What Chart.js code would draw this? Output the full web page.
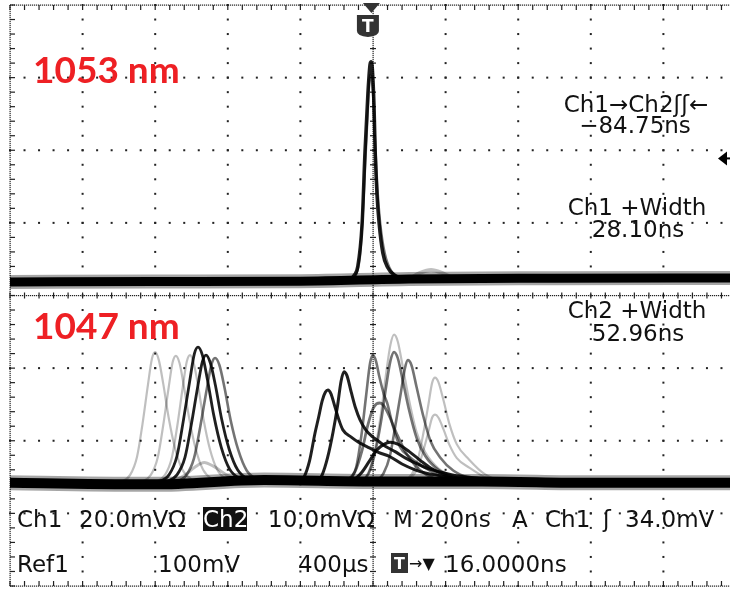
<!DOCTYPE html>
<html>
<head>
<meta charset="utf-8">
<script src="https://cdn.jsdelivr.net/npm/chart.js@4.4.1/dist/chart.umd.min.js"></script>
<style>
html, body { margin: 0; padding: 0; background: #fff; overflow: hidden; }
#wrap { width: 750px; height: 589px; }
</style>
</head>
<body>
<div id="wrap"><canvas id="scope" width="750" height="589"></canvas></div>
<script>
// time axis: 200 ns/div, 10 div, trigger in the middle
const timeDivs = [-1000, -800, -600, -400, -200, 0, 200, 400, 600, 800, 1000];
// Ch1 20 mV/div, Ch2 10 mV/div (values in mV from each channel's ground)
const ch1Range = [-83.75, 76.25];
const ch2Range = [-14.2, 65.8];

// Ch1 (1053 nm) trace
const ch1BaseT = [-1000, -600, -200, 100, 500, 1000];
const ch1BaseV = [0, 0.1, 0.2, 0.8, 1.0, 1.1];
const ch1PeakT = [-130, -85, -65, -52, -42, -30, -22, -14, -8, -5, -2, 3, 6, 11, 17, 27, 40, 60, 90, 125];
const ch1PeakV = [0.2, 0.3, 0.6, 1.8, 4.2, 16, 36, 52, 60, 60.6, 59, 48, 36, 24, 16, 8, 4, 1.8, 0.9, 0.8];
const ch1GhostT = [-100, -60, -45, -35, -25, -15, -8, 0, 5, 12, 20, 32, 50, 80, 110];
const ch1GhostV = [0.2, 0.5, 2.5, 8, 25, 46, 57, 52, 40, 26, 16, 8, 3, 1.2, 0.8];
const ch1BumpT = [100, 130, 160, 190, 220];
const ch1BumpV = [0.8, 2.5, 3.3, 2.5, 1.0];

// Ch2 (1047 nm) trace, many overlaid shots
const ch2BaseT = [-1000, -600, -300, 0, 300, 600, 1000];
const ch2BaseV = [0, -0.2, 0.4, 0.2, 0.2, 0, 0];
const p1T = [-700, -669, -650, -635, -620, -609, -600, -590, -578, -563, -545, -525, -500, -463];
const p1V = [0, 1.1, 3.6, 8.1, 13.5, 17.1, 18.0, 16.9, 13.7, 9.0, 4.7, 1.8, 0.5, 0];
const p2T = [-643, -612, -593, -578, -563, -552, -543, -533, -521, -506, -488, -468, -443, -406];
const p2V = [0, 1.1, 3.5, 7.9, 13.1, 16.6, 17.5, 16.5, 13.3, 8.8, 4.6, 1.8, 0.5, 0];
const p3T = [-604, -573, -554, -539, -524, -513, -504, -494, -482, -467, -449, -429, -404, -367];
const p3V = [0, 1.1, 3.5, 7.9, 13.2, 16.7, 17.6, 16.5, 13.4, 8.8, 4.6, 1.8, 0.5, 0];
const p4T = [-598, -562, -540, -523, -505, -492, -482, -470, -456, -439, -418, -395, -366, -322];
const p4V = [0, 1.1, 3.7, 8.4, 14.0, 17.8, 18.7, 17.6, 14.2, 9.4, 4.9, 1.9, 0.6, 0];
const p5T = [-576, -540, -518, -501, -483, -470, -460, -448, -434, -417, -396, -373, -344, -300];
const p5V = [0, 1.1, 3.5, 7.9, 13.2, 16.7, 17.6, 16.5, 13.4, 8.8, 4.6, 1.8, 0.5, 0];
const p6T = [-551, -515, -493, -476, -458, -445, -435, -423, -409, -392, -371, -348, -319, -275];
const p6V = [0, 1.0, 3.4, 7.7, 12.9, 16.3, 17.2, 16.2, 13.1, 8.6, 4.5, 1.7, 0.5, 0];
const p7T = [-560, -520, -490, -465, -440, -400, -350];
const p7V = [0, 1.0, 2.2, 2.8, 2.3, 1.0, 0];
const pAT = [-205, -190, -175, -160, -150, -140, -131, -124, -116, -105, -92, -83, -60, -40, -17, 15, 47, 80, 116, 150, 185, 240, 300];
const pAV = [0, 0.8, 3.0, 6.8, 9.0, 11.3, 12.5, 12.8, 12.3, 10.5, 8.4, 7.3, 6.3, 5.6, 5.0, 4.2, 3.6, 2.6, 1.8, 1.3, 1.0, 0.5, 0];
const pBT = [-155, -140, -125, -110, -98, -88, -80, -72, -60, -48, -36, -20, 0, 11, 35, 61, 90, 116, 150, 185, 240, 300, 360];
const pBV = [0, 1.1, 3.5, 7.0, 10.5, 14.0, 15.3, 14.8, 12.5, 10.3, 8.7, 7.3, 6.3, 5.9, 5.0, 4.3, 3.4, 2.75, 2.0, 1.5, 0.9, 0.6, 0];
const pCT = [-80, -58, -46, -32, -19, -8, 0, 8, 18, 30, 39, 55, 74, 100, 130, 170, 220];
const pCV = [0, 0.8, 2.2, 6.5, 12.0, 16.5, 17.6, 16.8, 14.5, 12.2, 11.0, 7.8, 5.0, 3.6, 2.5, 1.3, 0];
const pDT = [-36, -12, 5, 22, 36, 48, 58, 68, 82, 99, 120, 144, 180, 228, 288];
const pDV = [0, 1.5, 4.5, 9.5, 15.0, 19.0, 20.4, 19.5, 16.0, 11.5, 7.0, 4.2, 2.0, 0.8, 0];
const pET = [-36, -12, 5, 22, 36, 48, 58, 68, 82, 99, 120, 144, 180, 228, 288];
const pEV = [0, 1.3, 4.0, 8.4, 13.2, 16.8, 18.0, 17.2, 14.1, 10.1, 6.2, 3.7, 1.8, 0.7, 0];
const pFT = [5, 29, 47, 62, 77, 88, 96, 106, 120, 137, 158, 185, 221, 269, 329];
const pFV = [0, 1.3, 3.8, 8.0, 12.5, 15.8, 16.9, 16.2, 13.2, 9.5, 5.8, 3.5, 1.7, 0.6, 0];
const pGT = [78, 107, 124, 139, 153, 163, 171, 180, 194, 210, 231, 265, 308, 365];
const pGV = [0, 1.2, 3.3, 6.9, 10.9, 13.8, 14.5, 13.9, 11.4, 8.2, 5.3, 3.2, 1.2, 0];
const pHT = [78, 107, 124, 139, 153, 163, 171, 180, 194, 210, 231, 265, 308, 365];
const pHV = [0, 0.8, 2.1, 4.5, 7.1, 9.0, 9.4, 9.0, 7.4, 5.3, 3.4, 2.1, 0.8, 0];
const pIT = [-80, -50, -30, -15, 0, 10, 19, 30, 45, 65, 90, 120, 160, 210];
const pIV = [0, 1.5, 4.5, 7.8, 10.2, 10.9, 11.0, 10.6, 9.2, 6.8, 4.2, 2.2, 0.8, 0];
const pJT = [-60, -30, -10, 10, 30, 47, 70, 100, 130, 160, 200, 260];
const pJV = [0, 1.5, 3.0, 4.5, 5.3, 5.6, 5.3, 4.3, 3.1, 2.0, 1.0, 0];

const triggerLevel = 34; // mV on Ch1

const INK = 'rgba(0,0,0,0.88)';
const MID = 'rgba(0,0,0,0.55)';
const PALE = 'rgba(0,0,0,0.25)';

function trace(t, v, axis, color, width) {
  return {
    data: t.map((ti, i) => [ti, v[i]]),
    yAxisID: axis,
    borderColor: color,
    borderWidth: width,
    pointRadius: 0,
    fill: false,
    cubicInterpolationMode: 'monotone'
  };
}

const datasets = [
  trace(ch1BaseT, ch1BaseV, 'y', 'rgba(0,0,0,0.35)', 14),
  trace(ch1BaseT, ch1BaseV, 'y', '#000', 9),
  trace(ch2BaseT, ch2BaseV, 'y2', 'rgba(0,0,0,0.35)', 15),
  trace(ch2BaseT, ch2BaseV, 'y2', '#000', 10),
  trace(ch1GhostT, ch1GhostV, 'y', MID, 2.5),
  trace(ch1BumpT, ch1BumpV, 'y', PALE, 4),
  trace(ch1PeakT, ch1PeakV, 'y', INK, 3.5),
  trace(p1T, p1V, 'y2', PALE, 2.2),
  trace(p2T, p2V, 'y2', PALE, 2.2),
  trace(p3T, p3V, 'y2', PALE, 2.2),
  trace(p7T, p7V, 'y2', PALE, 3),
  trace(p4T, p4V, 'y2', INK, 2.8),
  trace(p5T, p5V, 'y2', INK, 2.8),
  trace(p6T, p6V, 'y2', MID, 2.6),
  trace(pAT, pAV, 'y2', INK, 3),
  trace(pBT, pBV, 'y2', INK, 3),
  trace(pCT, pCV, 'y2', MID, 2.6),
  trace(pDT, pDV, 'y2', PALE, 2.2),
  trace(pET, pEV, 'y2', MID, 2.6),
  trace(pFT, pFV, 'y2', MID, 2.6),
  trace(pGT, pGV, 'y2', PALE, 2.2),
  trace(pHT, pHV, 'y2', PALE, 2.2),
  trace(pIT, pIV, 'y2', MID, 2.8),
  trace(pJT, pJV, 'y2', INK, 3)
];

// Tek style dotted graticule
const graticule = {
  id: 'graticule',
  beforeDatasetsDraw(chart) {
    const { ctx, chartArea: a, scales } = chart;
    const xs = timeDivs.map(t => scales.x.getPixelForValue(t));
    const ys = [];
    for (let j = 0; j <= 8; j++) ys.push(scales.y.getPixelForValue(ch1Range[1] - j * 20));
    const dx = (xs[1] - xs[0]) / 5, dy = (ys[1] - ys[0]) / 5;
    ctx.save();
    ctx.fillStyle = '#222';
    // plain major lines: a dot every minor division
    xs.forEach((px, i) => {
      if (i === 0 || i === 5 || i === 10) return;
      for (let k = 0; k <= 40; k++) ctx.fillRect(px - 1, a.top + k * dy - 1, 2, 2);
    });
    ys.forEach((py, j) => {
      if (j === 0 || j === 4 || j === 8) return;
      for (let k = 0; k <= 50; k++) ctx.fillRect(a.left + k * dx - 1, py - 1, 2, 2);
    });
    // dense dotted lines with ticks: frame and centre cross
    const vDense = (px, t0, t1) => {
      for (let y = a.top; y <= a.bottom; y += 2) ctx.fillRect(px - 0.5, y, 1.2, 1.2);
      for (let k = 0; k <= 40; k++) ctx.fillRect(px + t0, a.top + k * dy - 0.6, t1 - t0, 1.2);
    };
    const hDense = (py, t0, t1) => {
      for (let x = a.left; x <= a.right; x += 2) ctx.fillRect(x, py - 0.5, 1.2, 1.2);
      for (let k = 0; k <= 50; k++) ctx.fillRect(a.left + k * dx - 0.6, py + t0, 1.2, t1 - t0);
    };
    vDense(xs[0], 0, 5);
    vDense(xs[10], -5, 0);
    vDense(xs[5], -3, 3);
    hDense(ys[0], 0, 5);
    hDense(ys[8], -5, 0);
    hDense(ys[4], -3, 3);
    ctx.restore();
  }
};

const readouts = {
  id: 'readouts',
  afterDraw(chart) {
    const { ctx, scales } = chart;
    ctx.save();
    // trigger marker on top
    const tx = scales.x.getPixelForValue(-14);
    ctx.fillStyle = '#333';
    ctx.beginPath();
    ctx.moveTo(tx - 5, 3); ctx.lineTo(tx + 12, 3); ctx.lineTo(tx + 3.5, 13); ctx.closePath(); ctx.fill();
    ctx.beginPath();
    ctx.moveTo(tx - 11, 15); ctx.lineTo(tx + 11, 15); ctx.lineTo(tx + 11, 31);
    ctx.quadraticCurveTo(tx + 11, 36, tx, 37); ctx.quadraticCurveTo(tx - 11, 36, tx - 11, 31);
    ctx.closePath(); ctx.fill();
    ctx.fillStyle = '#fff';
    ctx.font = 'bold 17px "DejaVu Sans"';
    ctx.textAlign = 'center';
    ctx.fillText('T', tx, 32);

    // trigger level arrow on the right
    const ly = scales.y.getPixelForValue(triggerLevel);
    ctx.fillStyle = '#000';
    ctx.beginPath();
    ctx.moveTo(718, ly); ctx.lineTo(727, ly - 7); ctx.lineTo(727, ly + 7); ctx.closePath(); ctx.fill();
    ctx.fillRect(726, ly - 1, 6, 2);

    // red wavelength labels
    ctx.fillStyle = '#EE2024';
    ctx.textAlign = 'left';
    ctx.font = 'bold 37px Lato';
    ctx.fillText('1053 nm', 33, 83);
    ctx.fillText('1047 nm', 33, 339);

    // measurement readouts
    ctx.fillStyle = '#111';
    ctx.font = '23px "DejaVu Sans"';
    ctx.textAlign = 'center';
    ctx.fillText('Ch1\u2192Ch2\u0283\u0283\u2190', 636, 112);
    ctx.fillText('\u221284.75ns', 635, 133);
    ctx.fillText('Ch1 +Width', 637, 215);
    ctx.fillText('28.10ns', 638, 237);
    ctx.fillText('Ch2 +Width', 637, 318);
    ctx.fillText('52.96ns', 638, 341);

    // status lines at the bottom
    ctx.textAlign = 'left';
    const row1 = 527, row2 = 572;
    ctx.fillText('Ch1', 17, row1);
    ctx.fillText('20.0mV\u03A9', 79, row1);
    ctx.fillRect(203, 507, 44, 24);
    ctx.fillStyle = '#fff';
    ctx.fillText('Ch2', 203, row1);
    ctx.fillStyle = '#111';
    ctx.fillText('10.0mV\u03A9', 268, row1);
    ctx.fillText('M 200ns', 393, row1);
    ctx.fillText('A', 512, row1);
    ctx.fillText('Ch1', 545, row1);
    ctx.fillText('\u0283', 603, row1);
    ctx.fillText('34.0mV', 625, row1);
    ctx.fillText('Ref1', 17, row2);
    ctx.fillText('100mV', 158, row2);
    ctx.fillText('400\u00B5s', 298, row2);
    ctx.fillStyle = '#333';
    ctx.fillRect(391, 553, 17, 20);
    ctx.fillStyle = '#fff';
    ctx.font = 'bold 16px "DejaVu Sans"';
    ctx.fillText('T', 394, 569);
    ctx.fillStyle = '#111';
    ctx.font = '16px "DejaVu Sans"';
    ctx.fillText('\u2192\u25BC', 409, 569);
    ctx.font = '23px "DejaVu Sans"';
    ctx.fillText('16.0000ns', 445, row2);
    ctx.restore();
  }
};

const scope = new Chart(document.getElementById('scope'), {
  type: 'line',
  data: { datasets: datasets },
  options: {
    responsive: false,
    animation: false,
    devicePixelRatio: 1,
    layout: { padding: { left: 10, right: 14, top: 5, bottom: 3 } },
    plugins: { legend: { display: false }, tooltip: { enabled: false } },
    scales: {
      x: { type: 'linear', min: timeDivs[0], max: timeDivs[10], display: false },
      y: { min: ch1Range[0], max: ch1Range[1], display: false },
      y2: { min: ch2Range[0], max: ch2Range[1], display: false }
    }
  },
  plugins: [graticule, readouts]
});
</script>
</body>
</html>
